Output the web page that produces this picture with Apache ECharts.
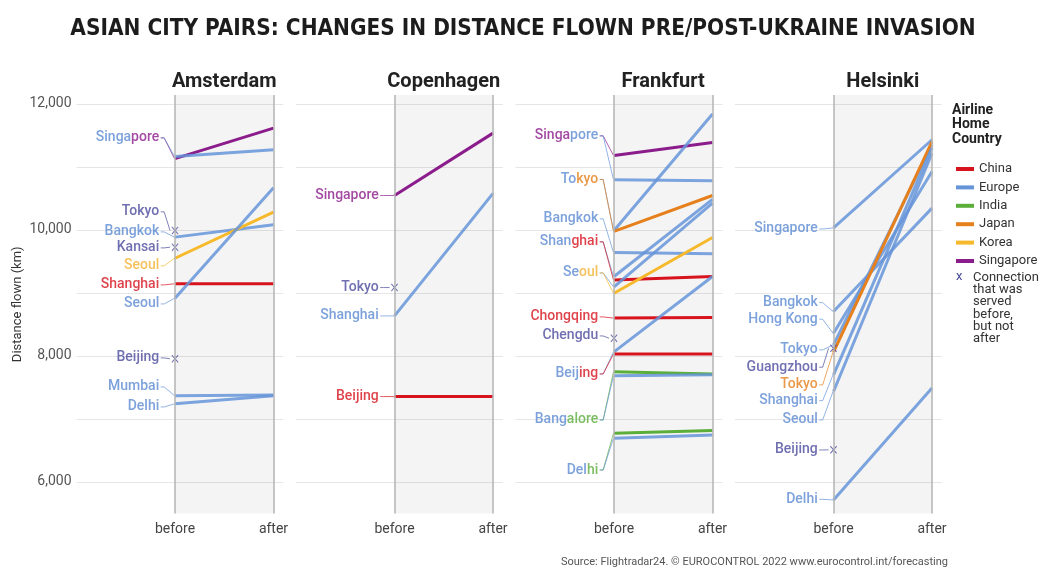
<!DOCTYPE html>
<html>
<head>
<meta charset="utf-8">
<script src="https://cdn.jsdelivr.net/npm/echarts@6/dist/echarts.min.js"></script>
<style>
html, body { margin: 0; padding: 0; background: #fff; }
#chart { width: 1040px; height: 569px; }
</style>
</head>
<body>
<div id="chart"></div>
<script>
// route rows: city, airline home country, km before, km after (null = served before, not after)
const amsterdam = [
  ['Singapore', 'Singapore', 11130, 11615],
  ['Singapore', 'Europe', 11165, 11270],
  ['Tokyo', 'Europe', 9990, null],
  ['Bangkok', 'Europe', 9885, 10080],
  ['Kansai', 'Europe', 9725, null],
  ['Seoul', 'Korea', 9550, 10280],
  ['Shanghai', 'China', 9145, 9145],
  ['Seoul', 'Europe', 8915, 10670],
  ['Beijing', 'Europe', 7955, null],
  ['Mumbai', 'Europe', 7370, 7380],
  ['Delhi', 'Europe', 7240, 7370]
];
const copenhagen = [
  ['Singapore', 'Singapore', 10545, 11535],
  ['Tokyo', 'Europe', 9085, null],
  ['Shanghai', 'Europe', 8635, 10580],
  ['Beijing', 'China', 7355, 7355]
];
const frankfurt = [
  ['Singapore', 'Singapore', 11180, 11385],
  ['Singapore', 'Europe', 10795, 10780],
  ['Tokyo', 'Europe', 9990, 11840],
  ['Tokyo', 'Japan', 9975, 10545],
  ['Bangkok', 'Europe', 9640, 9620],
  ['Shanghai', 'Europe', 9260, 10485],
  ['Shanghai', 'China', 9205, 9260],
  ['Seoul', 'Europe', 9095, 10425],
  ['Seoul', 'Korea', 8995, 9880],
  ['Chongqing', 'China', 8600, 8610],
  ['Chengdu', 'Europe', 8280, null],
  ['Beijing', 'Europe', 8065, 9260],
  ['Beijing', 'China', 8030, 8030],
  ['Bangalore', 'India', 7750, 7715],
  ['Bangalore', 'Europe', 7685, 7700],
  ['Delhi', 'India', 6775, 6815],
  ['Delhi', 'Europe', 6695, 6745]
];
const helsinki = [
  ['Singapore', 'Europe', 10030, 11430],
  ['Bangkok', 'Europe', 8705, 10345],
  ['Hong Kong', 'Europe', 8360, 10925],
  ['Tokyo', 'Europe', 8175, 11350],
  ['Guangzhou', 'Europe', 8120, null],
  ['Tokyo', 'Japan', 8060, 11400],
  ['Shanghai', 'Europe', 7700, 11300],
  ['Seoul', 'Europe', 7435, 11215],
  ['Beijing', 'Europe', 6510, null],
  ['Delhi', 'Europe', 5715, 7490]
];
const panelNames = ['Amsterdam', 'Copenhagen', 'Frankfurt', 'Helsinki'];
const airlines = ['China', 'Europe', 'India', 'Japan', 'Korea', 'Singapore'];
const xLabels = ['before', 'after'];
const yTicks = [6000, 8000, 10000, 12000];

// label placement: level (km) of each city name, and colour split for shared labels
const labelsAms = [
  { city: 'Singapore', at: 11460, parts: [['Singa', 'Europe'], ['pore', 'Singapore']] },
  { city: 'Tokyo', at: 10286, parts: [['Tokyo', 'X']] },
  { city: 'Bangkok', at: 9968, parts: [['Bangkok', 'Europe']] },
  { city: 'Kansai', at: 9714, parts: [['Kansai', 'X']] },
  { city: 'Seoul', at: 9429, parts: [['Seoul', 'Korea']] },
  { city: 'Shanghai', at: 9127, parts: [['Shanghai', 'China']] },
  { city: 'Seoul', at: 8825, parts: [['Seoul', 'Europe']] },
  { city: 'Beijing', at: 7968, parts: [['Beijing', 'X']] },
  { city: 'Mumbai', at: 7508, parts: [['Mumbai', 'Europe']] },
  { city: 'Delhi', at: 7190, parts: [['Delhi', 'Europe']] }
];
const labelsCph = [
  { city: 'Singapore', at: 10545, parts: [['Singapore', 'Singapore']] },
  { city: 'Tokyo', at: 9085, parts: [['Tokyo', 'X']] },
  { city: 'Shanghai', at: 8635, parts: [['Shanghai', 'Europe']] },
  { city: 'Beijing', at: 7355, parts: [['Beijing', 'China']] }
];
const labelsFra = [
  { city: 'Singapore', at: 11492, parts: [['Singa', 'Singapore'], ['pore', 'Europe']] },
  { city: 'Tokyo', at: 10800, parts: [['To', 'Europe'], ['kyo', 'Japan']] },
  { city: 'Bangkok', at: 10175, parts: [['Bangkok', 'Europe']] },
  { city: 'Shanghai', at: 9810, parts: [['Shan', 'Europe'], ['ghai', 'China']] },
  { city: 'Seoul', at: 9317, parts: [['Se', 'Europe'], ['oul', 'Korea']] },
  { city: 'Chongqing', at: 8619, parts: [['Chongqing', 'China']] },
  { city: 'Chengdu', at: 8317, parts: [['Chengdu', 'X']] },
  { city: 'Beijing', at: 7714, parts: [['Beij', 'Europe'], ['ing', 'China']] },
  { city: 'Bangalore', at: 6984, parts: [['Bang', 'Europe'], ['alore', 'India']] },
  { city: 'Delhi', at: 6190, parts: [['Del', 'Europe'], ['hi', 'India']] }
];
const labelsHel = [
  { city: 'Singapore', at: 10015, parts: [['Singapore', 'Europe']] },
  { city: 'Bangkok', at: 8846, parts: [['Bangkok', 'Europe']] },
  { city: 'Hong Kong', at: 8583, parts: [['Hong Kong', 'Europe']] },
  { city: 'Tokyo', at: 8095, parts: [['Tokyo', 'Europe']] },
  { city: 'Guangzhou', at: 7821, parts: [['Guangzhou', 'X']] },
  { city: 'Tokyo', at: 7540, parts: [['Tokyo', 'Japan']] },
  { city: 'Shanghai', at: 7290, parts: [['Shanghai', 'Europe']] },
  { city: 'Seoul', at: 6984, parts: [['Seoul', 'Europe']] },
  { city: 'Beijing', at: 6508, parts: [['Beijing', 'X']] },
  { city: 'Delhi', at: 5725, parts: [['Delhi', 'Europe']] }
];

const panels = [amsterdam, copenhagen, frankfurt, helsinki];
const panelLabels = [labelsAms, labelsCph, labelsFra, labelsHel];

const lineColors = {
  China: '#d7141e', Europe: '#6594d8', India: '#5bae3a', Japan: '#e5801c',
  Korea: '#f6b92c', Singapore: '#8b1c8b', X: '#4b4b9d'
};
const textColors = Object.assign({}, lineColors, { Europe: '#5b89d2', Korea: '#f2b232' });
const xPath = 'path://M0,1L1,0L5,4L9,0L10,1L6,5L10,9L9,10L5,6L1,10L0,9L4,5Z';

const step = 219.5, unit = 98.5;
const rich = {};
Object.keys(textColors).forEach(function (k) {
  rich[k] = { color: textColors[k], fontSize: 14, fontWeight: 500, fontFamily: 'Roboto' };
});

const grids = [], xAxes = [], yAxes = [], series = [];
const titles = [{
  text: 'ASIAN CITY PAIRS: CHANGES IN DISTANCE FLOWN PRE/POST-UKRAINE INVASION',
  left: 523, top: 18, textAlign: 'center', padding: 0,
  textStyle: { fontSize: 22.4, fontWeight: 'bold', fontFamily: "'DejaVu Sans Condensed', 'Liberation Sans Narrow', sans-serif", color: '#1c1c1c' }
}];

panels.forEach(function (rows, i) {
  const before0 = 175 + step * i;
  grids.push({ left: before0 - unit, top: 95, width: unit * 2.1, height: 418.5 });
  titles.push({
    text: panelNames[i], left: before0 + unit / 2, top: 72, textAlign: 'center', padding: 0,
    textStyle: { fontSize: 20, fontWeight: 'bold', color: '#222', fontFamily: 'Roboto' }
  });
  xAxes.push({
    type: 'value', gridIndex: i, min: -1, max: 1.1, interval: 1,
    axisLine: { show: false }, axisTick: { show: false }, splitLine: { show: false },
    axisLabel: {
      color: '#444', fontSize: 14, margin: 9,
      formatter: function (v) { return v === 0 ? xLabels[0] : (v === 1 ? xLabels[1] : ''); }
    }
  });
  yAxes.push({
    type: 'value', gridIndex: i, min: 5500, max: 12140, interval: 500,
    axisLine: { show: false }, axisTick: { show: false },
    splitLine: { show: true, lineStyle: { color: ['rgba(0,0,0,0)', '#e6e6e6'], width: 1 } },
    axisLabel: i === 0 ? {
      color: '#555', fontSize: 14, margin: 5,
      formatter: function (v) { return yTicks.indexOf(v) >= 0 ? v.toLocaleString('en-US') : ''; }
    } : { show: false },
    name: i === 0 ? 'Distance flown (km)' : '',
    nameLocation: 'middle', nameGap: 52, nameRotate: 90,
    nameTextStyle: { color: '#333', fontSize: 13 }
  });

  // shaded band and the before / after rules
  series.push({
    type: 'line', xAxisIndex: i, yAxisIndex: i, data: [], z: 1, silent: true,
    markArea: { silent: true, itemStyle: { color: 'rgba(0,0,0,0.045)' }, data: [[{ xAxis: 0 }, { xAxis: 1 }]] },
    markLine: {
      silent: true, symbol: 'none', label: { show: false },
      lineStyle: { color: '#b3b3b3', width: 1.5, type: 'solid' },
      data: [{ xAxis: 0 }, { xAxis: 1 }]
    }
  });

  const labels = panelLabels[i];
  const xs = [];
  rows.forEach(function (r) {
    const key = r[3] === null ? 'X' : r[1];
    const lab = labels.find(function (l) {
      return l.city === r[0] && l.parts.some(function (p) { return p[1] === key; });
    });
    if (r[3] !== null) {
      series.push({
        type: 'line', name: r[1], xAxisIndex: i, yAxisIndex: i, z: 3,
        data: [[0, r[2]], [1, r[3]]], symbol: 'none', color: lineColors[r[1]],
        lineStyle: { width: 3, color: lineColors[r[1]], opacity: r[1] === 'Europe' ? 0.85 : 1 },
        silent: true
      });
    } else {
      xs.push([0, r[2]]);
    }
    if (lab) {
      series.push({
        type: 'line', xAxisIndex: i, yAxisIndex: i, z: 2, symbol: 'none', silent: true,
        data: [[-0.145, lab.at], [-0.11, lab.at], [key === 'X' ? -0.05 : -0.005, r[2]]],
        lineStyle: { width: 1, color: lineColors[key], opacity: 0.7 }
      });
    }
  });
  series.push({
    type: 'scatter', xAxisIndex: i, yAxisIndex: i, z: 4, data: xs, silent: true,
    symbol: xPath, symbolSize: [7, 8], itemStyle: { color: lineColors.X }
  });
  series.push({
    type: 'scatter', xAxisIndex: i, yAxisIndex: i, z: 4, symbolSize: 0, silent: true,
    data: labels.map(function (l) { return { value: [-0.16, l.at], parts: l.parts }; }),
    label: {
      show: true, position: 'left', distance: 0, rich: rich,
      formatter: function (p) {
        return p.data.parts.map(function (q) { return '{' + q[1] + '|' + q[0] + '}'; }).join('');
      }
    }
  });
});

titles.push({
  text: 'Source: Flightradar24. \u00a9 EUROCONTROL 2022 www.eurocontrol.int/forecasting',
  right: 92, top: 557, padding: 0,
  textStyle: { fontSize: 11, fontWeight: 'normal', color: '#555', fontFamily: 'Roboto' }
});

const chart = echarts.init(document.getElementById('chart'));
chart.setOption({
  animation: false,
  textStyle: { fontFamily: 'Roboto' },
  title: titles,
  grid: grids,
  xAxis: xAxes,
  yAxis: yAxes,
  legend: {
    data: airlines, orient: 'vertical', left: 951, top: 157,
    icon: 'rect', itemWidth: 18, itemHeight: 4, itemGap: 4.4, selectedMode: false,
    textStyle: { fontSize: 13, lineHeight: 14, color: '#333' }
  },
  graphic: [
    { type: 'text', left: 952, top: 103, style: { text: 'Airline\nHome\nCountry', font: 'bold 14px Roboto', lineHeight: 14.5, fill: '#222' } },
    { type: 'text', left: 956, top: 270, style: { text: 'x', font: '13px Roboto', fill: lineColors.X } },
    { type: 'text', left: 973, top: 271, style: { text: 'Connection\nthat was\nserved\nbefore,\nbut not\nafter', font: '13px Roboto', lineHeight: 12.3, fill: '#333' } }
  ],
  series: series
});
</script>
</body>
</html>
